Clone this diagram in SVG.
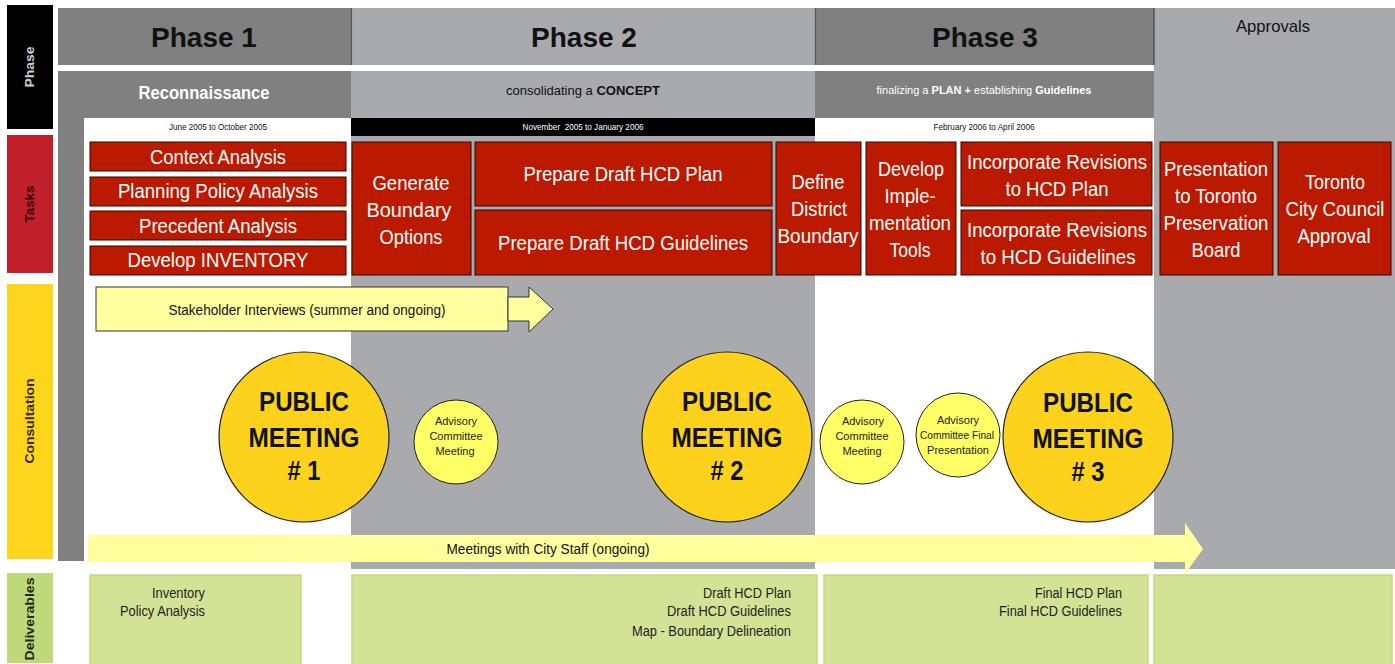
<svg xmlns="http://www.w3.org/2000/svg" width="1395" height="664" viewBox="0 0 1395 664">
<style>
text{font-family:"Liberation Sans",Arial,sans-serif}
.dk{fill:#808080}
.lt{fill:#a9aaae}
.task{fill:#bc1a00;stroke:#2a0800;stroke-width:1}
.tt{fill:#ffffff;font-size:20px;text-anchor:middle}
.hd{font-size:28px;font-weight:bold;fill:#111;text-anchor:middle}
.date{font-size:9px;text-anchor:middle}
.pm{fill:#fcd21d;stroke:#222;stroke-width:1.2}
.pmt{font-size:28px;font-weight:bold;fill:#111;text-anchor:middle}
.ac{fill:#ffff66;stroke:#222;stroke-width:1}
.act{font-size:11px;fill:#222;text-anchor:middle}
.del{fill:#d3e395;stroke:#c5d97f;stroke-width:1.5}
.dt{font-size:14px;fill:#222;text-anchor:end}
.lbl{font-size:12px;font-weight:bold;text-anchor:middle}
</style>
<rect x="0" y="0" width="1395" height="664" fill="#ffffff"/>
<!-- left row labels -->
<g id="label-phase"><rect x="7" y="5" width="46" height="124" fill="#000"/><text class="lbl" transform="translate(34,67) rotate(-90)" fill="#cccccc" textLength="41" lengthAdjust="spacingAndGlyphs">Phase</text></g>
<g id="label-tasks"><rect x="7" y="135" width="46" height="138" fill="#c0202a"/><text class="lbl" transform="translate(34,204) rotate(-90)" fill="#3a0505" textLength="37" lengthAdjust="spacingAndGlyphs">Tasks</text></g>
<g id="label-consultation"><rect x="7" y="284" width="46" height="275" fill="#fdd51c"/><text class="lbl" transform="translate(34,421) rotate(-90)" fill="#3a2a00" textLength="85" lengthAdjust="spacingAndGlyphs">Consultation</text></g>
<g id="label-deliverables"><rect x="7" y="573" width="46" height="90" fill="#bfd97a"/><text class="lbl" transform="translate(34,619) rotate(-90)" fill="#1f2a10" textLength="83" lengthAdjust="spacingAndGlyphs">Deliverables</text></g>
<!-- backgrounds -->
<g id="backgrounds">
<rect class="dk" x="58" y="8" width="293" height="57"/>
<rect class="lt" x="351" y="8" width="464" height="57"/>
<rect class="dk" x="815" y="8" width="339" height="57"/>
<rect class="lt" x="1154" y="8" width="241" height="561"/>
<rect class="dk" x="58" y="71" width="293" height="47"/>
<rect class="dk" x="58" y="118" width="26" height="443"/>
<rect class="lt" x="351" y="71" width="464" height="498"/>
<rect class="dk" x="815" y="71" width="339" height="47"/>
<rect x="351" y="118" width="464" height="18" fill="#000"/>
<line x1="351.5" y1="8" x2="351.5" y2="65" stroke="#555" stroke-width="1.2"/>
<line x1="815.5" y1="8" x2="815.5" y2="65" stroke="#555" stroke-width="1.2"/>
<line x1="1154" y1="8" x2="1154" y2="65" stroke="#555" stroke-width="1.5"/>
</g>
<g id="headers">
<text class="hd" x="204" y="47">Phase 1</text>
<text class="hd" x="584" y="47">Phase 2</text>
<text class="hd" x="985" y="47">Phase 3</text>
<text x="1273" y="32" font-size="17" fill="#111" text-anchor="middle" textLength="74" lengthAdjust="spacingAndGlyphs">Approvals</text>
<text x="204" y="99" font-size="18" font-weight="bold" fill="#fff" text-anchor="middle" textLength="131" lengthAdjust="spacingAndGlyphs">Reconnaissance</text>
<text x="583" y="95" font-size="13" fill="#111" text-anchor="middle">consolidating a <tspan font-weight="bold">CONCEPT</tspan></text>
<text x="984" y="94" font-size="11" fill="#fff" text-anchor="middle">finalizing a <tspan font-weight="bold">PLAN +</tspan> establishing <tspan font-weight="bold">Guidelines</tspan></text>
<text class="date" x="218" y="130" fill="#111" textLength="98" lengthAdjust="spacingAndGlyphs">June 2005 to October 2005</text>
<text class="date" x="583" y="130" fill="#fff" textLength="121" lengthAdjust="spacingAndGlyphs" xml:space="preserve">November  2005 to January 2006</text>
<text class="date" x="984" y="130" fill="#111" textLength="101" lengthAdjust="spacingAndGlyphs">February 2006 to April 2006</text>
</g>
<!-- tasks -->
<g id="task-context"><rect class="task" x="90" y="142" width="256" height="29"/><text class="tt" x="218" y="164" textLength="136" lengthAdjust="spacingAndGlyphs">Context Analysis</text></g>
<g id="task-planning"><rect class="task" x="90" y="177" width="256" height="29"/><text class="tt" x="218" y="198" textLength="200" lengthAdjust="spacingAndGlyphs">Planning Policy Analysis</text></g>
<g id="task-precedent"><rect class="task" x="90" y="211" width="256" height="29"/><text class="tt" x="218" y="233" textLength="158" lengthAdjust="spacingAndGlyphs">Precedent Analysis</text></g>
<g id="task-inventory"><rect class="task" x="90" y="246" width="256" height="29"/><text class="tt" x="218" y="267" textLength="181" lengthAdjust="spacingAndGlyphs">Develop INVENTORY</text></g>
<g id="task-generate"><rect class="task" x="352" y="142" width="119" height="133"/>
<text class="tt" x="411" y="190" textLength="77" lengthAdjust="spacingAndGlyphs">Generate</text>
<text class="tt" x="409" y="217" textLength="85" lengthAdjust="spacingAndGlyphs">Boundary</text>
<text class="tt" x="411" y="244" textLength="63" lengthAdjust="spacingAndGlyphs">Options</text></g>
<g id="task-draft-plan"><rect class="task" x="475" y="142" width="297" height="64"/><text class="tt" x="623" y="181" textLength="199" lengthAdjust="spacingAndGlyphs">Prepare Draft HCD Plan</text></g>
<g id="task-draft-guidelines"><rect class="task" x="475" y="210" width="297" height="65"/><text class="tt" x="623" y="250" textLength="250" lengthAdjust="spacingAndGlyphs">Prepare Draft HCD Guidelines</text></g>
<g id="task-define"><rect class="task" x="776" y="142" width="85" height="133"/>
<text class="tt" x="818" y="189" textLength="53" lengthAdjust="spacingAndGlyphs">Define</text>
<text class="tt" x="819" y="216" textLength="56" lengthAdjust="spacingAndGlyphs">District</text>
<text class="tt" x="818" y="243" textLength="81" lengthAdjust="spacingAndGlyphs">Boundary</text></g>
<g id="task-develop"><rect class="task" x="866" y="142" width="90" height="133"/>
<text class="tt" x="911" y="176" textLength="66" lengthAdjust="spacingAndGlyphs">Develop</text>
<text class="tt" x="910" y="203" textLength="51" lengthAdjust="spacingAndGlyphs">Imple-</text>
<text class="tt" x="910" y="230" textLength="82" lengthAdjust="spacingAndGlyphs">mentation</text>
<text class="tt" x="910" y="257" textLength="41" lengthAdjust="spacingAndGlyphs">Tools</text></g>
<g id="task-revise-plan"><rect class="task" x="961" y="142" width="191" height="64"/>
<text class="tt" x="1057" y="169" textLength="180" lengthAdjust="spacingAndGlyphs">Incorporate Revisions</text>
<text class="tt" x="1057" y="196" textLength="103" lengthAdjust="spacingAndGlyphs">to HCD Plan</text></g>
<g id="task-revise-guidelines"><rect class="task" x="961" y="210" width="191" height="65"/>
<text class="tt" x="1057" y="237" textLength="180" lengthAdjust="spacingAndGlyphs">Incorporate Revisions</text>
<text class="tt" x="1058" y="264" textLength="155" lengthAdjust="spacingAndGlyphs">to HCD Guidelines</text></g>
<g id="task-presentation"><rect class="task" x="1160" y="142" width="113" height="133"/>
<text class="tt" x="1216" y="176" textLength="104" lengthAdjust="spacingAndGlyphs">Presentation</text>
<text class="tt" x="1216" y="203" textLength="82" lengthAdjust="spacingAndGlyphs">to Toronto</text>
<text class="tt" x="1216" y="230" textLength="105" lengthAdjust="spacingAndGlyphs">Preservation</text>
<text class="tt" x="1216" y="257" textLength="49" lengthAdjust="spacingAndGlyphs">Board</text></g>
<g id="task-council"><rect class="task" x="1278" y="142" width="113" height="133"/>
<text class="tt" x="1335" y="189" textLength="60" lengthAdjust="spacingAndGlyphs">Toronto</text>
<text class="tt" x="1335" y="216" textLength="99" lengthAdjust="spacingAndGlyphs">City Council</text>
<text class="tt" x="1334" y="243" textLength="73" lengthAdjust="spacingAndGlyphs">Approval</text></g>
<!-- connectors / arrows -->
<g id="connectors">
<g id="stakeholder-arrow">
<rect x="96" y="287" width="412" height="44" fill="#ffffa0" stroke="#333" stroke-width="1"/>
<polygon points="508,297 529,297 529,287 553,309 529,332 529,321 508,321" fill="#ffffa0" stroke="#333" stroke-width="1"/>
<text x="307" y="315" font-size="14" fill="#111" text-anchor="middle" textLength="277" lengthAdjust="spacingAndGlyphs">Stakeholder Interviews (summer and ongoing)</text>
</g>
<g id="city-staff-arrow">
<polygon points="88,535 1185,535 1185,523 1203,549 1185,574 1185,562 88,562" fill="#ffff9e"/>
<text x="548" y="554" font-size="14" fill="#111" text-anchor="middle" textLength="203" lengthAdjust="spacingAndGlyphs">Meetings with City Staff (ongoing)</text>
</g>
</g>
<!-- consultation meetings -->
<g id="public-meeting-1"><circle class="pm" cx="304" cy="437" r="85"/>
<text class="pmt" x="304" y="411" textLength="90" lengthAdjust="spacingAndGlyphs">PUBLIC</text>
<text class="pmt" x="304" y="447" textLength="111" lengthAdjust="spacingAndGlyphs">MEETING</text>
<text class="pmt" x="304" y="480" textLength="33" lengthAdjust="spacingAndGlyphs"># 1</text></g>
<g id="advisory-1"><circle class="ac" cx="456" cy="442" r="42"/>
<text class="act" x="456" y="425">Advisory</text>
<text class="act" x="456" y="440">Committee</text>
<text class="act" x="455" y="455">Meeting</text></g>
<g id="public-meeting-2"><circle class="pm" cx="727" cy="437" r="85"/>
<text class="pmt" x="727" y="411" textLength="90" lengthAdjust="spacingAndGlyphs">PUBLIC</text>
<text class="pmt" x="727" y="447" textLength="111" lengthAdjust="spacingAndGlyphs">MEETING</text>
<text class="pmt" x="727" y="480" textLength="33" lengthAdjust="spacingAndGlyphs"># 2</text></g>
<g id="advisory-2"><circle class="ac" cx="862" cy="442" r="42"/>
<text class="act" x="863" y="425">Advisory</text>
<text class="act" x="862" y="440">Committee</text>
<text class="act" x="862" y="455">Meeting</text></g>
<g id="advisory-final"><circle class="ac" cx="958" cy="435" r="42"/>
<text class="act" x="958" y="424">Advisory</text>
<text class="act" x="957" y="439" textLength="74" lengthAdjust="spacingAndGlyphs">Committee Final</text>
<text class="act" x="958" y="454">Presentation</text></g>
<g id="public-meeting-3"><circle class="pm" cx="1088" cy="437" r="85"/>
<text class="pmt" x="1088" y="412" textLength="90" lengthAdjust="spacingAndGlyphs">PUBLIC</text>
<text class="pmt" x="1088" y="448" textLength="111" lengthAdjust="spacingAndGlyphs">MEETING</text>
<text class="pmt" x="1088" y="481" textLength="33" lengthAdjust="spacingAndGlyphs"># 3</text></g>
<!-- deliverables -->
<g id="deliverable-1"><rect class="del" x="90" y="575" width="211" height="92"/>
<text class="dt" x="205" y="598" textLength="53" lengthAdjust="spacingAndGlyphs">Inventory</text>
<text class="dt" x="205" y="616" textLength="85" lengthAdjust="spacingAndGlyphs">Policy Analysis</text></g>
<g id="deliverable-2"><rect class="del" x="352" y="575" width="465" height="92"/>
<text class="dt" x="791" y="598" textLength="88" lengthAdjust="spacingAndGlyphs">Draft HCD Plan</text>
<text class="dt" x="791" y="616" textLength="124" lengthAdjust="spacingAndGlyphs">Draft HCD Guidelines</text>
<text class="dt" x="791" y="636" textLength="159" lengthAdjust="spacingAndGlyphs">Map - Boundary Delineation</text></g>
<g id="deliverable-3"><rect class="del" x="824" y="575" width="324" height="92"/>
<text class="dt" x="1122" y="598" textLength="87" lengthAdjust="spacingAndGlyphs">Final HCD Plan</text>
<text class="dt" x="1122" y="616" textLength="123" lengthAdjust="spacingAndGlyphs">Final HCD Guidelines</text></g>
<g id="deliverable-4"><rect class="del" x="1154" y="575" width="238" height="92"/></g>
</svg>
